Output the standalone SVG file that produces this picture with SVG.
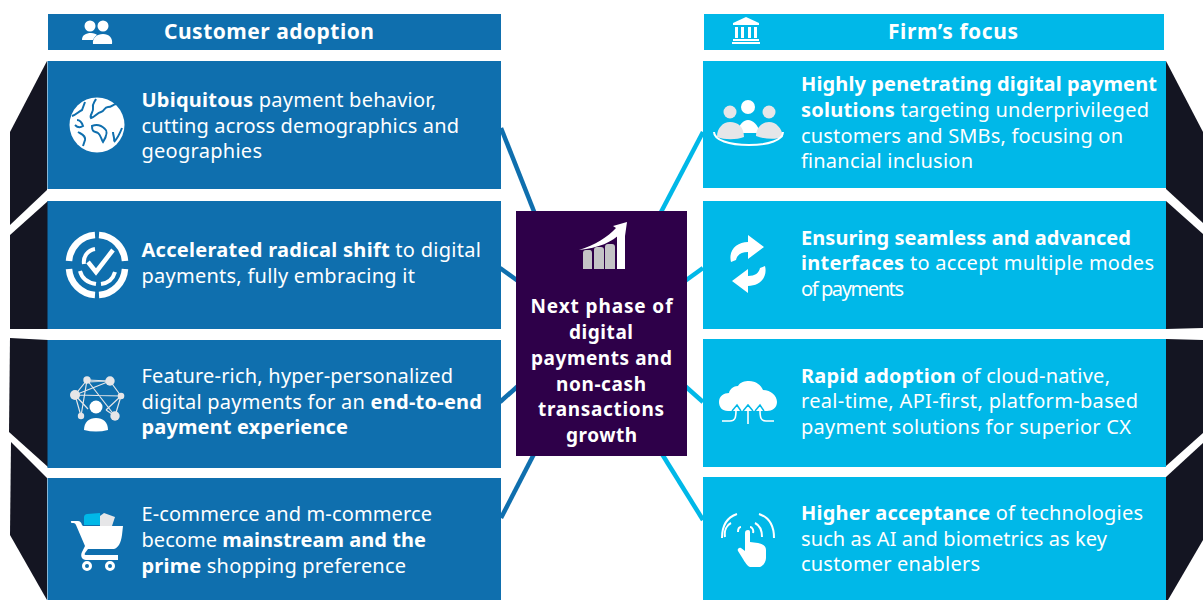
<svg xmlns="http://www.w3.org/2000/svg" width="1203" height="600" viewBox="0 0 1203 600">
<style>
text{font-family:"Noto Sans","Open Sans","Liberation Sans",sans-serif;fill:#fff}
.t{font-size:20px}
.b{font-weight:700}
.h{font-size:21px;font-weight:700}
.c{font-size:19px;font-weight:700;text-anchor:middle}
.cl{stroke:#0f6fae;stroke-width:4.5;fill:none}
.cr{stroke:#00b8e8;stroke-width:4.5;fill:none}
.dk{fill:#141522}
.bl{fill:#0f6fae}
.cy{fill:#00b8e8}
.w{fill:#fff}
.g{fill:#e6e6e8}
.ws{stroke:#fff;fill:none}
</style>
<g id="side-left">
<polygon class="dk" points="47,61 10,132 10,225 47,190"/>
<polygon class="dk" points="48,201 10,235 10,329 48,329"/>
<polygon class="dk" points="10,338 48,340 48,467 9,432"/>
<polygon class="dk" points="11,442 47,478 47,600 10,535"/>
</g>
<g id="side-right">
<polygon class="dk" points="1166,61 1203,132 1203,223 1166,189"/>
<polygon class="dk" points="1166,201 1203,234 1203,328 1166,329"/>
<polygon class="dk" points="1166,339 1203,340 1203,433 1166,466"/>
<polygon class="dk" points="1166,477 1203,443 1203,540 1168,600 1166,600"/>
</g>
<g id="connectors">
<line class="cl" x1="501" y1="128" x2="535" y2="214"/>
<line class="cl" x1="500" y1="268" x2="518" y2="281"/>
<line class="cl" x1="500" y1="402" x2="518" y2="386"/>
<line class="cl" x1="501" y1="518" x2="534" y2="454"/>
<line class="cr" x1="703" y1="132" x2="660" y2="214"/>
<line class="cr" x1="703" y1="268" x2="685" y2="281"/>
<line class="cr" x1="703" y1="402" x2="685" y2="386"/>
<line class="cr" x1="703" y1="520" x2="662" y2="454"/>
</g>
<g id="header-left">
<rect class="bl" x="48" y="14" width="453" height="36"/>
<circle class="w" cx="90" cy="26" r="5.5"/><circle class="w" cx="103" cy="26" r="5.5"/>
<path class="w" d="M82 40c0-5 4-7 9-7 3 0 5 1 6 2-2 1-3 3-4 5z"/>
<path class="w" d="M93 44c-1-6 4-10 10-10 6 0 10 4 9 10z"/>
<text class="h" x="164" y="39" textLength="210">Customer adoption</text>
</g>
<g id="header-right">
<rect class="cy" x="704" y="14" width="460" height="36"/>
<path class="w" d="M746 17l13 6v2h-26v-2z"/>
<path class="w" d="M735 27h3v11h-3zM741 27h3v11h-3zM748 27h3v11h-3zM754 27h3v11h-3zM733 39h26v2h-26zM732 42h28v2h-28z"/>
<text class="h" x="888" y="39" textLength="130">Firm’s focus</text>
</g>
<g id="card-l1">
<rect class="bl" x="47.500" y="61" width="453.500" height="128"/>
<circle class="w" cx="97" cy="125" r="27.500"/>
<path class="ws" stroke="#0f6fae" style="stroke:#0f6fae" stroke-width="2" d="M72 116c4-1 6-4 10-6l3-8M77 120c3 0 5 3 6 6-3 2-6 1-8-1M96 99c-2 4-4 5-3 9s-4 7-2 10c5-2 6-5 10-6s3-5 7-5 4-2 8-3M92 126c5-2 10 0 13 3 3 2 1 8-2 13-2-3-2-7-5-9s-6 0-6-7zM78 132c3 2 8 3 7 8l-2 6M113 132c0 4 2 6 1 9M122 128c-2 5-4 10-8 14"/>
<text class="t" x="141.500" y="107" textLength="294.500"><tspan class="b">Ubiquitous</tspan> payment behavior,</text>
<text class="t" x="141.500" y="133" textLength="317.500">cutting across demographics and</text>
<text class="t" x="141.500" y="158" textLength="120.500">geographies</text>
</g>
<g id="card-l2">
<rect class="bl" x="47.500" y="201" width="453.500" height="128"/>
<g class="ws">
<path stroke-width="6.500" d="M69 261a28 28 0 0 1 26-26M99 235a28 28 0 0 1 26 26M125 269a28 28 0 0 1-26 26M95 295a28 28 0 0 1-26-26"/>
<path stroke-width="4" d="M84 264a13 13 0 0 1 11-15M80 271c2 8 9 12 16 13M101 284c8-1 12-5 14-12"/>
<path stroke-width="4.500" d="M88 262l8 10 17-22"/>
</g>
<text class="t" x="141.500" y="257" textLength="339.500"><tspan class="b">Accelerated radical shift</tspan> to digital</text>
<text class="t" x="141.500" y="283" textLength="273.500">payments, fully embracing it</text>
</g>
<g id="card-l3">
<rect class="bl" x="47.500" y="340" width="453.500" height="128"/>
<path fill="none" stroke="#e6e6e8" stroke-width="1.200" d="M87 380l23 1M75 395l12-15 23 1 11 15-6 20M75 395l46 1M87 380l-12 15 6 21M110 381l-35 14M87 380l-6 36M87 380l28 36M110 381l-23 1M75 395l13 14M121 396l-15 14M115 416l-9-6"/>
<g class="g"><circle cx="87" cy="380" r="3.700"/><circle cx="110" cy="381" r="4.700"/><circle cx="75" cy="395" r="5"/><circle cx="121" cy="396" r="3.300"/><circle cx="81" cy="416" r="3.200"/><circle cx="115" cy="416" r="4.700"/></g>
<circle class="w" cx="96" cy="407" r="6.500"/>
<path class="w" d="M84 430c0-8 5-12 12-12s12 4 12 12c-8 2-16 2-24 0z"/>
<text class="t" x="141.500" y="383" textLength="311.500">Feature-rich, hyper-personalized</text>
<text class="t" x="141.500" y="409" textLength="340.500">digital payments for an <tspan class="b">end-to-end</tspan></text>
<text class="t b" x="141.500" y="434" textLength="206.500">payment experience</text>
</g>
<g id="card-l4">
<rect class="bl" x="47.500" y="478" width="453.500" height="122"/>
<path class="cy" d="M84 517c0-2 2-3 3-3l13-1 1 12H84z"/>
<path class="g" d="M100 516l4-3 11 4-3 9h-12z"/>
<path class="w" d="M72 521h6c2 0 3 1 4 4l1 1h40l-1 9c-1 8-4 13-8 14H88l-3 4c-1 2 0 2 2 2h31v5H86c-4 0-6-4-4-8l3-6-9-21c-1-2-2-2-4-2-1 0-2-2 0-2z"/>
<circle class="ws" stroke-width="3" cx="87" cy="566" r="3.500"/>
<circle class="ws" stroke-width="3" cx="110" cy="566" r="3.500"/>
<text class="t" x="141.500" y="521" textLength="290.500">E-commerce and m-commerce</text>
<text class="t" x="141.500" y="547" textLength="284.500">become <tspan class="b">mainstream and the</tspan></text>
<text class="t" x="141.500" y="573" textLength="264.500"><tspan class="b">prime</tspan> shopping preference</text>
</g>
<g id="center">
<rect x="516" y="211" width="171" height="245" fill="#2e0049"/>
<path class="w" d="M579 250c16-5 29-13 37-22l-3-2 14-4-2 14-4-3c-9 9-22 15-42 17z"/>
<path d="M583 269v-16c0-2 1-3 3-3h4c1 0 2 1 2 3v16zM594 269v-19c0-2 1-3 3-3h4c2 0 3 1 3 3v19zM605 269v-22c0-2 1-3 3-3h4c2 0 3 1 3 3v22z" fill="#c4c4c6"/>
<path class="w" d="M617 269v-36c0-1 1-2 2-2h4c1 0 2 1 2 2v36z"/>
<text class="c" x="601.500" y="313" textLength="142">Next phase of</text>
<text class="c" x="601" y="339" textLength="64">digital</text>
<text class="c" x="601.500" y="365" textLength="141">payments and</text>
<text class="c" x="601" y="391" textLength="90">non-cash</text>
<text class="c" x="601" y="416" textLength="126">transactions</text>
<text class="c" x="601.500" y="442" textLength="71">growth</text>
</g>
<g id="card-r1">
<rect class="cy" x="703" y="61" width="463" height="127"/>
<circle class="g" cx="730" cy="112" r="6.500"/><circle class="w" cx="748" cy="107" r="7"/><circle class="g" cx="769" cy="112" r="6.500"/>
<path class="w" d="M737 133c2-8 6-13 11-13s10 5 12 13z"/>
<path class="g" d="M717 137c0-9 6-15 13-15 8 0 14 5 14 15-8 3-19 3-27 0zM756 136c0-8 6-14 13-14s13 6 14 15c-8 3-19 2-27-1z"/>
<path class="ws" stroke-width="2" d="M714 132c0 8 15 13 35 13s34-5 34-13"/>
<text class="t b" x="801" y="91" textLength="356">Highly penetrating digital payment</text>
<text class="t" x="801" y="117" textLength="348"><tspan class="b">solutions</tspan> targeting underprivileged</text>
<text class="t" x="801" y="143" textLength="322">customers and SMBs, focusing on</text>
<text class="t" x="801" y="168" textLength="172">financial inclusion</text>
</g>
<g id="card-r2">
<rect class="cy" x="703" y="201" width="463" height="128"/>
<path class="w" d="M731 262c-3-12 6-20 17-20v-7l16 12-16 12v-7c-7 0-11 3-12 8z"/>
<path class="w" d="M765 266c3 12-6 20-17 20v7l-16-12 16-12v7c7 0 11-3 12-8z"/>
<text class="t b" x="801" y="245" textLength="330">Ensuring seamless and advanced</text>
<text class="t" x="801" y="270" textLength="353"><tspan class="b">interfaces</tspan> to accept multiple modes</text>
<text class="t" x="801" y="296" textLength="103">of payments</text>
</g>
<g id="card-r3">
<rect class="cy" x="703" y="339" width="463" height="128"/>
<path class="w" d="M728 411c-6 0-9-4-9-9 0-6 5-9 10-9 0-2 3-7 9-7 2-4 7-5 11-5 7 0 12 4 14 9 8 0 14 6 14 12s-5 9-10 9z"/>
<g fill="none" stroke="#fff" stroke-width="1.600"><path d="M722 421h8c5 0 6-3 6-11M774 421h-8c-5 0-6-3-6-11M748 424v-16"/></g>
<path fill="none" stroke="#00b8e8" stroke-width="1.500" d="M732 411l5-6 4 6M743 411l5-6 5 6M755 411l5-6 4 6"/>
<text class="t" x="801" y="383" textLength="309"><tspan class="b">Rapid adoption</tspan> of cloud-native,</text>
<text class="t" x="801" y="408" textLength="337">real-time, API-first, platform-based</text>
<text class="t" x="801" y="434" textLength="330">payment solutions for superior CX</text>
</g>
<g id="card-r4">
<rect class="cy" x="703" y="477" width="463" height="123"/>
<path class="ws" stroke-width="2" d="M737 514c-9 3-15 11-15 24M731 523c-4 2-7 7-6 14M741 527c-2 0-3 2-3 5M759 514c9 3 15 11 15 24M755 523c4 2 7 7 7 14M750 527c2 0 4 3 3 6"/>
<path class="w" d="M745 533c0-2 1-3 3-3s2 1 2 3v9l8 1c5 1 8 3 8 7v8c0 4-3 8-6 9h-10c-3-1-5-5-7-8l-5-8c-1-2 1-4 3-3l4 3z"/>
<text class="t" x="801" y="520" textLength="342"><tspan class="b">Higher acceptance</tspan> of technologies</text>
<text class="t" x="801" y="546" textLength="306">such as AI and biometrics as key</text>
<text class="t" x="801" y="571" textLength="179">customer enablers</text>
</g>
</svg>
